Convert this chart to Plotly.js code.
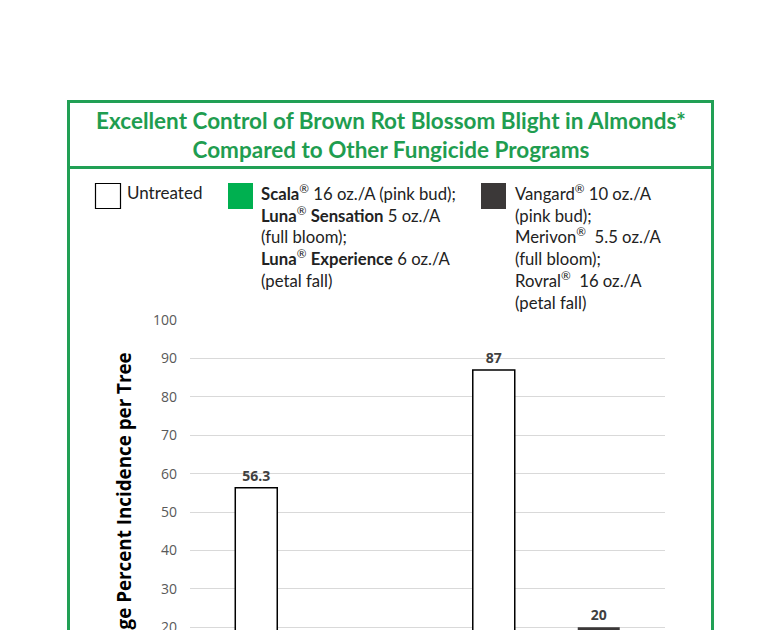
<!DOCTYPE html>
<html>
<head>
<meta charset="utf-8">
<script src="https://cdn.plot.ly/plotly-3.0.1.min.js"></script>
<style>
html,body{margin:0;padding:0;overflow:hidden;background:#fff;}
#chart{width:768px;height:800px;}
</style>
</head>
<body>
<div id="chart"></div>
<script>
// ---- data ----
const trials = ['Trial 1', 'Trial 2'];
const seriesNames = ['Untreated', 'Scala/Luna program', 'Vangard/Merivon/Rovral program'];
const untreated = [56.3, 87];
const lunaProgram = [1.3, 4.3];
const standardProgram = [10.4, 20];
const chartTitle = 'Excellent Control of Brown Rot Blossom Blight in Almonds*<br>Compared to Other Fungicide Programs';
const yTitle = 'Average Percent Incidence per Tree';
const legendTexts = [
  'Untreated',
  '<b>Scala</b><sup>®</sup> 16 oz./A (pink bud);<br><b>Luna</b><sup>®</sup> <b>Sensation</b> 5 oz./A<br>(full bloom);<br><b>Luna</b><sup>®</sup> <b>Experience</b> 6 oz./A<br>(petal fall)',
  'Vangard<sup>®</sup> 10 oz./A<br>(pink bud);<br>Merivon<sup>®</sup>  5.5 oz./A<br>(full bloom);<br>Rovral<sup>®</sup>  16 oz./A<br>(petal fall)'
];

// ---- layout helpers (pixel -> paper) ----
const W = 768, H = 800;
const L = 190, R = 665, T = 320, B = 704;
const px = v => (v - L) / (R - L);
const py = v => (B - v) / (B - T);

const GREEN_BORDER = '#21a055';
const fills = ['#ffffff', '#00b050', '#3b3838'];
const lines = ['#000000', '#00b050', '#3b3838'];
const vals = [untreated, lunaProgram, standardProgram];

const traces = vals.map((v, i) => ({
  type: 'bar',
  name: seriesNames[i],
  x: trials,
  y: v,
  text: v.map(String),
  textposition: 'outside',
  cliponaxis: false,
  textfont: {family: 'Open Sans', size: 14, color: '#404040'},
  texttemplate: '<b>%{text}</b>',
  marker: {color: fills[i], line: {color: lines[i], width: i === 0 ? 1.5 : 0}},
  hoverinfo: 'x+y+name'
}));

const shapes = [
  // outer box
  {type: 'rect', xref: 'paper', yref: 'paper', x0: px(68.5), x1: px(712.5), y0: py(795), y1: py(101.5),
   line: {color: GREEN_BORDER, width: 3}, fillcolor: 'rgba(0,0,0,0)', layer: 'above'},
  // title separator
  {type: 'line', xref: 'paper', yref: 'paper', x0: px(68.5), x1: px(712.5), y0: py(167.5), y1: py(167.5),
   line: {color: GREEN_BORDER, width: 3}},
  // legend swatches
  {type: 'rect', xref: 'paper', yref: 'paper', x0: px(95.5), x1: px(120.5), y0: py(208.5), y1: py(183.5),
   line: {color: '#000', width: 1.2}, fillcolor: fills[0]},
  {type: 'rect', xref: 'paper', yref: 'paper', x0: px(228), x1: px(253), y0: py(209), y1: py(183),
   line: {width: 0}, fillcolor: fills[1]},
  {type: 'rect', xref: 'paper', yref: 'paper', x0: px(481), x1: px(506), y0: py(209), y1: py(183),
   line: {width: 0}, fillcolor: fills[2]}
];

const legFont = {family: 'Lato', size: 17, color: '#222222'};
const annotations = [
  {xref: 'paper', yref: 'paper', x: px(125), y: py(180), xanchor: 'left', yanchor: 'top', align: 'left',
   text: legendTexts[0], showarrow: false, font: legFont},
  {xref: 'paper', yref: 'paper', x: px(259), y: py(179), xanchor: 'left', yanchor: 'top', align: 'left',
   text: legendTexts[1], showarrow: false, font: {family: 'Lato', size: 16.7, color: '#222222'}},
  {xref: 'paper', yref: 'paper', x: px(513), y: py(179), xanchor: 'left', yanchor: 'top', align: 'left',
   text: legendTexts[2], showarrow: false, font: {family: 'Lato', size: 16.7, color: '#222222'}},
  {xref: 'paper', yref: 'paper', x: px(124), y: py(350), xanchor: 'center', yanchor: 'top', textangle: -90,
   text: '<b>' + yTitle + '</b>', showarrow: false, font: {family: 'Open Sans', size: 18.8, color: '#000'}}
];

const layout = {
  width: W, height: H,
  margin: {l: L, r: W - R, t: T, b: H - B, pad: 0},
  paper_bgcolor: '#fff', plot_bgcolor: '#fff',
  showlegend: false,
  barmode: 'group',
  bargap: 0.337,
  bargroupgap: 0.2,
  title: {text: '<b>' + chartTitle + '</b>', x: 391 / W, xanchor: 'center', xref: 'container',
          y: 1 - 129 / H, yanchor: 'middle', yref: 'container',
          font: {family: 'Lato', size: 22.5, color: '#1f9d50'}},
  xaxis: {showgrid: false, showline: false, zeroline: false, ticks: '',
          tickfont: {family: 'Open Sans', size: 13, color: '#595959'}},
  yaxis: {range: [0, 100], dtick: 10, showgrid: true, gridcolor: '#d9d9d9', gridwidth: 1,
          zeroline: false, showline: false, ticks: '', ticklabelstandoff: 12,
          tickfont: {family: 'Open Sans', size: 14, color: '#595959'}},
  shapes: shapes,
  annotations: annotations
};

Plotly.newPlot('chart', traces, layout, {displayModeBar: false, staticPlot: true});
</script>
</body>
</html>
